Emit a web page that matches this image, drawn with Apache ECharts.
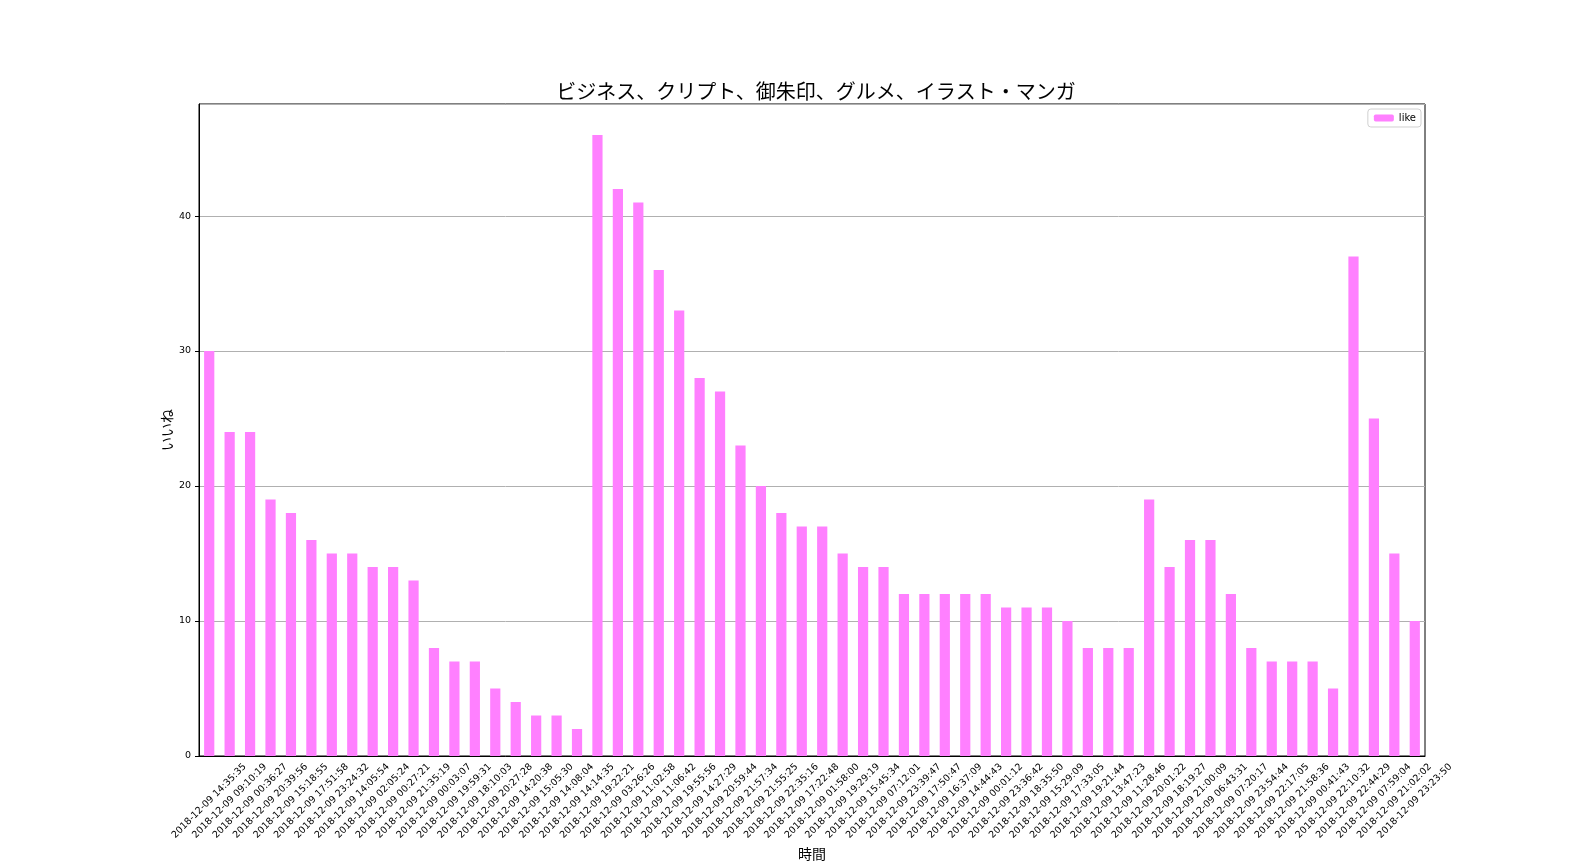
<!DOCTYPE html>
<html>
<head>
<meta charset="utf-8">
<script src="https://cdn.jsdelivr.net/npm/echarts@6/dist/echarts.min.js"></script>
<style>
  html, body { margin: 0; padding: 0; background: #fff; }
  #main { width: 1584px; height: 864px; }
</style>
</head>
<body>
<div id="main"></div>
<script>
  // 投稿時刻（横軸）
  const times = [
    '14:35:35', '09:10:19', '00:36:27', '20:39:56', '15:18:55', '17:51:58', '23:24:32', '14:05:54',
    '02:05:24', '00:27:21', '21:35:19', '00:03:07', '19:59:31', '18:10:03', '20:27:28', '14:20:38',
    '15:05:30', '14:08:04', '14:14:35', '19:22:21', '03:26:26', '11:02:58', '11:06:42', '19:55:56',
    '14:27:29', '20:59:44', '21:57:34', '21:55:25', '22:35:16', '17:22:48', '01:58:00', '19:29:19',
    '15:45:34', '07:12:01', '23:39:47', '17:50:47', '16:37:09', '14:44:43', '00:01:12', '23:36:42',
    '18:35:50', '15:29:09', '17:33:05', '19:21:44', '13:47:23', '11:28:46', '20:01:22', '18:19:27',
    '21:00:09', '06:43:31', '07:20:17', '23:54:44', '22:17:05', '21:58:36', '00:41:43', '22:10:32',
    '22:44:29', '07:59:04', '21:02:02', '23:23:50'
  ];
  const categories = times.map(t => '2018-12-09 ' + t);

  // いいね数
  const likes = [
    30, 24, 24, 19, 18, 16, 15, 15, 14, 14, 13, 8, 7, 7, 5, 4, 3, 3, 2,
    46, 42, 41, 36, 33, 28, 27, 23, 20, 18, 17, 17, 15, 14, 14,
    12, 12, 12, 12, 12, 11, 11, 11, 10, 8, 8, 8,
    19, 14, 16, 16, 12, 8, 7, 7, 7, 5,
    37, 25, 15, 10
  ];

  const yTicks = [0, 10, 20, 30, 40];

  const font = "'DejaVu Sans', 'Noto Sans CJK JP', sans-serif";
  const jpFont = "'Noto Sans CJK JP', sans-serif";

  let myChart = echarts.init(document.getElementById('main'));
  myChart.setOption({
    animation: false,
    title: {
      text: 'ビジネス、クリプト、御朱印、グルメ、イラスト・マンガ',
      left: 811,
      textAlign: 'center',
      top: 76,
      textStyle: { fontFamily: jpFont, fontSize: 20, fontWeight: 'normal', color: '#000' }
    },
    legend: {
      data: ['like'],
      right: 163,
      top: 109,
      itemWidth: 20,
      itemHeight: 7,
      itemGap: 5,
      padding: [4, 5, 4, 6],
      borderColor: '#d0d0d0',
      borderWidth: 1,
      borderRadius: 3,
      textStyle: { fontFamily: font, fontSize: 10, color: '#000' }
    },
    grid: {
      left: 199, right: 159, top: 104, bottom: 108,
      outerBoundsMode: 'none',
      containLabel: false,
      show: true, borderColor: '#000', borderWidth: 1
    },
    xAxis: {
      type: 'category',
      data: categories,
      name: '時間',
      nameLocation: 'middle',
      nameGap: 91,
      nameMoveOverlap: false,
      nameTextStyle: { fontFamily: jpFont, fontSize: 14, color: '#000' },
      axisLine: { lineStyle: { color: '#000' } },
      axisTick: { alignWithLabel: true, length: 4, lineStyle: { color: '#000' } },
      axisLabel: {
        interval: 0,
        rotate: 45,
        align: 'center',
        verticalAlign: 'middle',
        margin: 45,
        fontFamily: font,
        fontSize: 9.5,
        color: '#000'
      }
    },
    yAxis: {
      type: 'value',
      min: 0,
      max: 48.3,
      interval: 10,
      name: 'いいね',
      nameLocation: 'middle',
      nameGap: 25,
      nameMoveOverlap: false,
      nameTextStyle: { fontFamily: jpFont, fontSize: 14, color: '#000' },
      axisLine: { show: true, lineStyle: { color: '#000' } },
      axisTick: { show: true, length: 4, lineStyle: { color: '#000' } },
      axisLabel: {
        showMaxLabel: false,
        fontFamily: font,
        fontSize: 9.5,
        color: '#000',
        formatter: v => (yTicks.indexOf(v) >= 0 ? String(v) : '')
      },
      splitLine: { show: true, lineStyle: { color: '#b0b0b0', width: 1 } }
    },
    series: [{
      name: 'like',
      type: 'bar',
      data: likes,
      barWidth: '50%',
      itemStyle: { color: '#ff80ff' }
    }]
  });
</script>
</body>
</html>
